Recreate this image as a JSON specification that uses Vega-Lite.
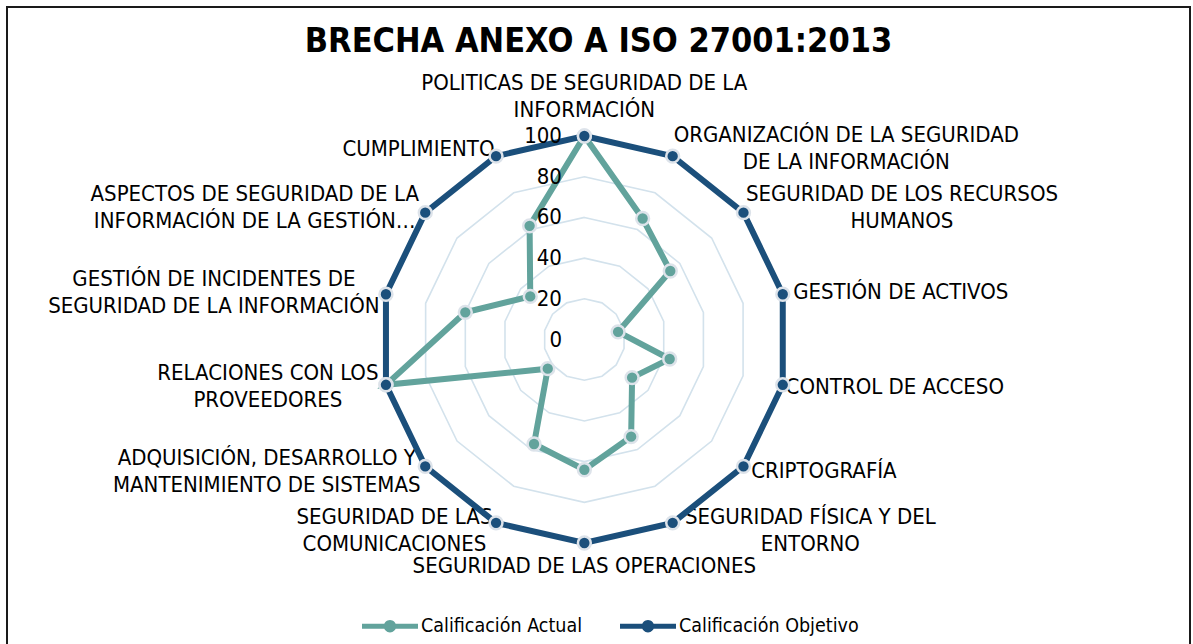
{
  "$schema": "https://vega.github.io/schema/vega-lite/v6.json",
  "width": 1183,
  "height": 640,
  "autosize": {"type": "none"},
  "padding": {"left": 7, "top": 7, "right": 3, "bottom": 0},
  "background": "white",
  "title": {
    "text": "BRECHA ANEXO A ISO 27001:2013",
    "anchor": "middle",
    "frame": "group",
    "font": "Liberation Sans Narrow, Arial Narrow, DejaVu Sans Condensed, sans-serif",
    "fontSize": 34,
    "fontWeight": "bold",
    "color": "#000000",
    "offset": -79,
    "baseline": "alphabetic"
  },
  "config": {
    "view": {"stroke": "#1a1a1a", "strokeWidth": 2},
    "text": {"font": "Liberation Sans Narrow, Arial Narrow, DejaVu Sans Condensed, sans-serif"}
  },
  "data": {
    "values": [
      {"idx": 0, "cat": "POLITICAS DE SEGURIDAD DE LA INFORMACIÓN", "label": ["POLITICAS DE SEGURIDAD DE LA", "INFORMACIÓN"], "Calificación Actual": 100, "Calificación Objetivo": 100},
      {"idx": 1, "cat": "ORGANIZACIÓN DE LA SEGURIDAD DE LA INFORMACIÓN", "label": ["ORGANIZACIÓN DE LA SEGURIDAD", "DE LA INFORMACIÓN"], "Calificación Actual": 66, "Calificación Objetivo": 100},
      {"idx": 2, "cat": "SEGURIDAD DE LOS RECURSOS HUMANOS", "label": ["SEGURIDAD DE LOS RECURSOS", "HUMANOS"], "Calificación Actual": 54, "Calificación Objetivo": 100},
      {"idx": 3, "cat": "GESTIÓN DE ACTIVOS", "label": ["GESTIÓN DE ACTIVOS"], "Calificación Actual": 17, "Calificación Objetivo": 100},
      {"idx": 4, "cat": "CONTROL DE ACCESO", "label": ["CONTROL DE ACCESO"], "Calificación Actual": 43, "Calificación Objetivo": 100},
      {"idx": 5, "cat": "CRIPTOGRAFÍA", "label": ["CRIPTOGRAFÍA"], "Calificación Actual": 30, "Calificación Objetivo": 100},
      {"idx": 6, "cat": "SEGURIDAD FÍSICA Y DEL ENTORNO", "label": ["SEGURIDAD FÍSICA Y DEL", "ENTORNO"], "Calificación Actual": 53, "Calificación Objetivo": 100},
      {"idx": 7, "cat": "SEGURIDAD DE LAS OPERACIONES", "label": ["SEGURIDAD DE LAS OPERACIONES"], "Calificación Actual": 64, "Calificación Objetivo": 100},
      {"idx": 8, "cat": "SEGURIDAD DE LAS COMUNICACIONES", "label": ["SEGURIDAD DE LAS", "COMUNICACIONES"], "Calificación Actual": 57, "Calificación Objetivo": 100},
      {"idx": 9, "cat": "ADQUISICIÓN, DESARROLLO Y MANTENIMIENTO DE SISTEMAS", "label": ["ADQUISICIÓN, DESARROLLO Y", "MANTENIMIENTO DE SISTEMAS"], "Calificación Actual": 23, "Calificación Objetivo": 100},
      {"idx": 10, "cat": "RELACIONES CON LOS PROVEEDORES", "label": ["RELACIONES CON LOS", "PROVEEDORES"], "Calificación Actual": 100, "Calificación Objetivo": 100},
      {"idx": 11, "cat": "GESTIÓN DE INCIDENTES DE SEGURIDAD DE LA INFORMACIÓN", "label": ["GESTIÓN DE INCIDENTES DE", "SEGURIDAD DE LA INFORMACIÓN"], "Calificación Actual": 60, "Calificación Objetivo": 100},
      {"idx": 12, "cat": "ASPECTOS DE SEGURIDAD DE LA INFORMACIÓN DE LA GESTIÓN…", "label": ["ASPECTOS DE SEGURIDAD DE LA", "INFORMACIÓN DE LA GESTIÓN…"], "Calificación Actual": 34, "Calificación Objetivo": 100},
      {"idx": 13, "cat": "CUMPLIMIENTO", "label": ["CUMPLIMIENTO"], "Calificación Actual": 62, "Calificación Objetivo": 100}
    ]
  },
  "encoding": {
    "x": {"field": "gx", "type": "quantitative", "scale": {"domain": [-283.7, 297.6], "nice": false, "zero": false}, "axis": null},
    "y": {"field": "gy", "type": "quantitative", "scale": {"domain": [-151.1, 163.4], "nice": false, "zero": false}, "axis": null}
  },
  "layer": [
    {
      "transform": [
        {"calculate": "[20, 40, 60, 80, 100]", "as": "level"},
        {"flatten": ["level"]},
        {"calculate": "datum.idx * 2 * PI / 14", "as": "theta"},
        {"calculate": "datum.level * sin(datum.theta)", "as": "gx"},
        {"calculate": "datum.level * cos(datum.theta)", "as": "gy"}
      ],
      "mark": {"type": "line", "interpolate": "linear-closed", "color": "#d3e2ec", "strokeWidth": 1.6},
      "encoding": {
        "detail": {"field": "level", "type": "nominal"},
        "order": {"field": "idx", "type": "quantitative"}
      }
    },
    {
      "transform": [
        {"calculate": "datum.idx * 2 * PI / 14", "as": "theta"},
        {"calculate": "length(datum.label)", "as": "n"},
        {"calculate": "datum.n > 1 ? max(length(datum.label[0]), length(datum.label[1])) : length(datum.label[0])", "as": "maxlen"},
        {"calculate": "(datum.idx == 0 || datum.idx == 7) ? 0 : (datum.idx < 7 ? 1 : -1)", "as": "sgn"},
        {"calculate": "104 * sin(datum.theta) + datum.sgn * (1 + datum.maxlen * 2.95)", "as": "gx"},
        {"calculate": "datum.idx == 0 ? 107 + datum.n * 6.15 + (datum.n - 1) * 6.63 : (datum.idx == 7 ? -105 - datum.n * 6.15 : 104 * cos(datum.theta) + (datum.n - 1) * 6.63)", "as": "gy"}
      ],
      "mark": {"type": "text", "align": "center", "baseline": "middle", "fontSize": 22, "lineHeight": 27, "color": "#000000"},
      "encoding": {"text": {"field": "label", "type": "nominal"}}
    },
    {
      "transform": [
        {"fold": ["Calificación Actual", "Calificación Objetivo"], "as": ["serie", "valor"]},
        {"calculate": "datum.idx * 2 * PI / 14", "as": "theta"},
        {"calculate": "datum.valor * sin(datum.theta)", "as": "gx"},
        {"calculate": "datum.valor * cos(datum.theta)", "as": "gy"}
      ],
      "mark": {"type": "line", "interpolate": "linear-closed", "strokeWidth": 6},
      "encoding": {
        "color": {
          "field": "serie", "type": "nominal",
          "scale": {"domain": ["Calificación Actual", "Calificación Objetivo"], "range": ["#62a39c", "#1b4f7b"]},
          "legend": {
            "orient": "none", "legendX": 355, "legendY": 591, "direction": "horizontal", "title": null,
            "symbolType": "M-1,-0.09L1,-0.09L1,0.09L-1,0.09Z M0.22,0A0.22,0.22 0 1,1 -0.22,0A0.22,0.22 0 1,1 0.22,0Z",
            "symbolSize": 3136, "symbolStrokeWidth": 0,
            "labelFont": "Liberation Sans Narrow, Arial Narrow, DejaVu Sans Condensed, sans-serif",
            "labelFontSize": 19.5, "labelColor": "#000000", "labelOffset": 3, "labelLimit": 400, "columnPadding": 37,
            "encode": {"symbols": {"update": {"fill": {"scale": "color", "field": "value"}, "opacity": {"value": 1}}}}
          }
        },
        "order": {"field": "idx", "type": "quantitative"}
      }
    },
    {
      "transform": [
        {"fold": ["Calificación Actual", "Calificación Objetivo"], "as": ["serie", "valor"]},
        {"calculate": "datum.idx * 2 * PI / 14", "as": "theta"},
        {"calculate": "datum.valor * sin(datum.theta)", "as": "gx"},
        {"calculate": "datum.valor * cos(datum.theta)", "as": "gy"}
      ],
      "mark": {"type": "point", "shape": "circle", "filled": true, "size": 165, "stroke": "#dde3ea", "strokeWidth": 2.5, "opacity": 1},
      "encoding": {
        "color": {
          "field": "serie", "type": "nominal",
          "scale": {"domain": ["Calificación Actual", "Calificación Objetivo"], "range": ["#62a39c", "#1b4f7b"]},
          "legend": {
            "orient": "none", "legendX": 355, "legendY": 591, "direction": "horizontal", "title": null,
            "symbolType": "M-1,-0.09L1,-0.09L1,0.09L-1,0.09Z M0.22,0A0.22,0.22 0 1,1 -0.22,0A0.22,0.22 0 1,1 0.22,0Z",
            "symbolSize": 3136, "symbolStrokeWidth": 0,
            "labelFont": "Liberation Sans Narrow, Arial Narrow, DejaVu Sans Condensed, sans-serif",
            "labelFontSize": 19.5, "labelColor": "#000000", "labelOffset": 3, "labelLimit": 400, "columnPadding": 37,
            "encode": {"symbols": {"update": {"fill": {"scale": "color", "field": "value"}, "opacity": {"value": 1}}}}
          }
        }
      }
    },
    {
      "data": {"values": [{"v": 0}, {"v": 20}, {"v": 40}, {"v": 60}, {"v": 80}, {"v": 100}]},
      "transform": [
        {"calculate": "-11", "as": "gx"},
        {"calculate": "datum.v", "as": "gy"}
      ],
      "mark": {"type": "text", "align": "right", "baseline": "middle", "fontSize": 22, "color": "#000000"},
      "encoding": {"text": {"field": "v", "type": "quantitative"}}
    }
  ]
}
